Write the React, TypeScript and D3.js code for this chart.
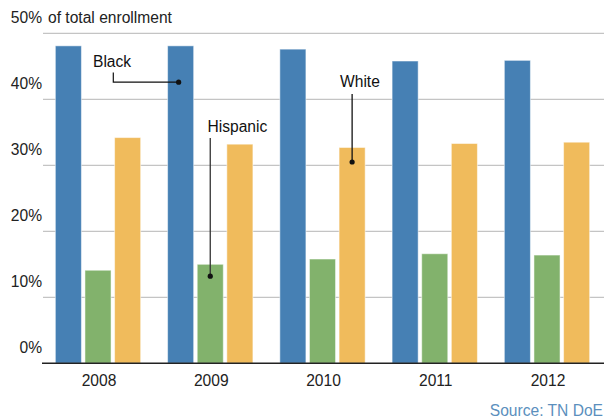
import React from "react";
import * as d3 from "d3";

const years = ["2008", "2009", "2010", "2011", "2012"];
const seriesNames = ["Black", "Hispanic", "White"];
const blackValues = [48.1, 48.1, 47.6, 45.8, 45.9];
const hispanicValues = [14.1, 15.0, 15.8, 16.6, 16.4];
const whiteValues = [34.2, 33.2, 32.7, 33.3, 33.5];
const yTicks = [0, 10, 20, 30, 40, 50];
const colors = ["#4680b4", "#82b26c", "#f0bb5c"];

const annotations = [
  { label: "Black", series: 0, year: "2009", value: 42.6 },
  { label: "Hispanic", series: 1, year: "2009", value: 13.2 },
  { label: "White", series: 2, year: "2010", value: 30.5 },
];

const W = 604;
const H = 420;
const font = "'Liberation Sans', Arial, Helvetica, sans-serif";
const FS = 15.6;

export default function App() {
  const values = [blackValues, hispanicValues, whiteValues];
  const x0 = d3.scaleBand().domain(years).range([43, 602]).paddingInner(0.24).paddingOuter(0.11);
  const x1 = d3.scaleBand().domain(seriesNames).range([0, x0.bandwidth()]).paddingInner(0.12);
  const y = d3.scaleLinear().domain([0, 50]).range([363.3, 33.3]);

  const cx = (yr: string, s: number) => (x0(yr) as number) + (x1(seriesNames[s]) as number) + x1.bandwidth() / 2;

  const bDot = { x: cx("2009", 0) - 2, y: y(annotations[0].value) };
  const hDot = { x: cx("2009", 1), y: y(annotations[1].value) };
  const wDot = { x: cx("2010", 2), y: y(annotations[2].value) };

  return (
    <svg width={W} height={H} style={{ position: "absolute", left: 0, top: 0, background: "#fff" }} fontFamily={font}>
      {yTicks.filter((t) => t > 0).map((t) => (
        <line key={"g" + t} x1={43} x2={W} y1={y(t)} y2={y(t)} stroke="#c4c4c4" strokeWidth={1.2} />
      ))}
      {yTicks.map((t) => (
        <text key={"t" + t} x={42} y={y(t) - 10.5} textAnchor="end" fontSize={FS} fill="#222">
          {t + "%"}
        </text>
      ))}
      <text x={48} y={y(50) - 10.5} fontSize={FS} fill="#222">of total enrollment</text>

      {years.map((yr, i) => (
        <g key={yr}>
          {seriesNames.map((s, j) => (
            <rect
              key={s}
              x={(x0(yr) as number) + (x1(s) as number)}
              y={y(values[j][i])}
              width={x1.bandwidth()}
              height={y(0) - y(values[j][i])}
              fill={colors[j]}
              stroke="#ffffff"
              strokeOpacity={0.5}
              strokeWidth={1}
            />
          ))}
          <text x={(x0(yr) as number) + x0.bandwidth() / 2 + 1} y={386} textAnchor="middle" fontSize={FS} fill="#222">
            {yr}
          </text>
        </g>
      ))}

      <line x1={42} x2={W} y1={y(0)} y2={y(0)} stroke="#222" strokeWidth={1.5} />

      <text x={93} y={67} fontSize={FS} fill="#111">Black</text>
      <path d={`M113.3,72.5 V${bDot.y} H${bDot.x}`} fill="none" stroke="#111" strokeWidth={1.2} />
      <circle cx={bDot.x} cy={bDot.y} r={2.6} fill="#111" />

      <text x={207.5} y={131.5} fontSize={FS} fill="#111">Hispanic</text>
      <line x1={hDot.x} x2={hDot.x} y1={138} y2={hDot.y} stroke="#333" strokeWidth={1.3} />
      <circle cx={hDot.x} cy={hDot.y} r={2.6} fill="#111" />

      <text x={340} y={87} fontSize={FS} fill="#111">White</text>
      <line x1={wDot.x} x2={wDot.x} y1={94} y2={wDot.y} stroke="#111" strokeWidth={1.3} />
      <circle cx={wDot.x} cy={wDot.y} r={2.6} fill="#111" />

      <text x={603} y={416} textAnchor="end" fontSize={FS} fill="#5b8fbd">Source: TN DoE</text>
    </svg>
  );
}
